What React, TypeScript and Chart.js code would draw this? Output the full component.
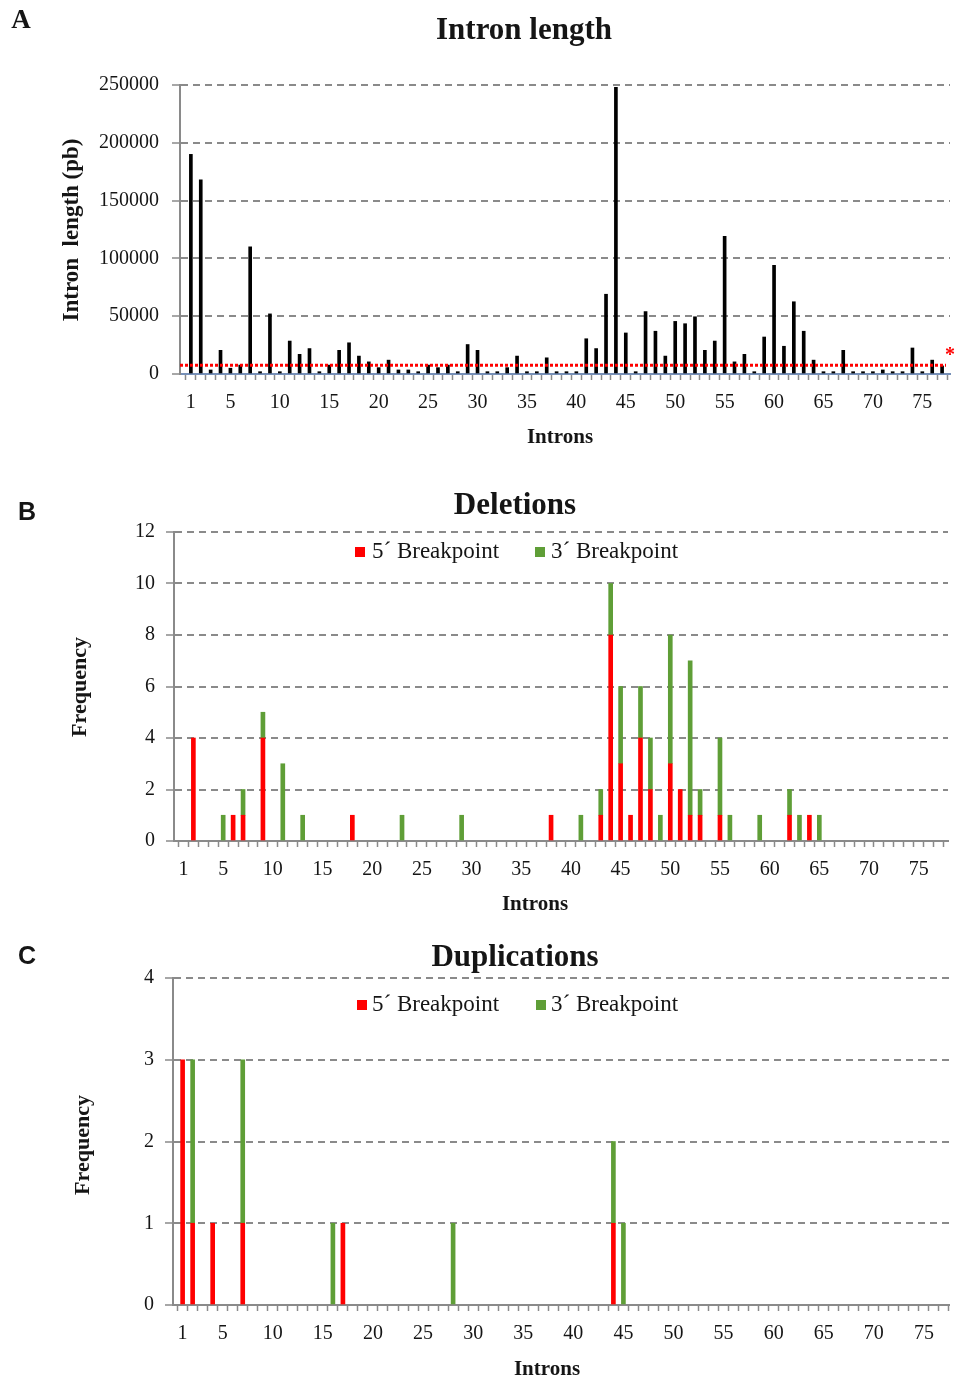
import React, { useEffect, useRef } from "react";
import { Chart, registerables } from "chart.js";

Chart.register(...registerables);

// ---------- DATA ----------
const INTRONS: number[] = Array.from({ length: 77 }, (_, i) => i + 1);
const X_TICK_LABELS = [1, 5, 10, 15, 20, 25, 30, 35, 40, 45, 50, 55, 60, 65, 70, 75];

// Panel A: intron length (pb), introns 1..77
const INTRON_LENGTH = [
  190000, 168000, 3500, 20500, 5000, 7700, 110000, 2000, 52000, 2000,
  28500, 17000, 22000, 2000, 7700, 20500, 27000, 15500, 10500, 5500,
  12000, 3500, 3500, 2000, 7700, 5500, 7700, 2000, 25500, 20500,
  2000, 2000, 5500, 15500, 2000, 2000, 14000, 2000, 2000, 2000,
  30500, 22000, 69000, 248000, 35500, 2000, 54000, 37000, 15500, 45500,
  43500, 49500, 20500, 28500, 119000, 10500, 17000, 2000, 32000, 94000,
  24000, 62500, 37000, 12000, 2000, 2000, 20500, 2000, 2000, 2000,
  3500, 2000, 2000, 22500, 2000, 12000, 7000,
];
const LENGTH_THRESHOLD = 7500;
const LENGTH_Y_TICKS = [0, 50000, 100000, 150000, 200000, 250000];

// Panel B: deletions
const DEL_5_INTRON = [2, 6, 7, 9, 18, 38, 43, 44, 45, 46, 47, 48, 50, 51, 52, 53, 55, 62, 64];
const DEL_5_COUNT = [4, 1, 1, 4, 1, 1, 1, 8, 3, 1, 4, 2, 3, 2, 1, 1, 1, 1, 1];
const DEL_3_INTRON = [5, 7, 9, 11, 13, 23, 29, 41, 43, 44, 45, 47, 48, 49, 50, 52, 53, 55, 56, 59, 62, 63, 65];
const DEL_3_COUNT = [1, 1, 1, 3, 1, 1, 1, 1, 1, 2, 3, 2, 2, 1, 5, 6, 1, 3, 1, 1, 1, 1, 1];
const DEL_Y_TICKS = [0, 2, 4, 6, 8, 10, 12];

// Panel C: duplications
const DUP_5_INTRON = [1, 2, 4, 7, 17, 44];
const DUP_5_COUNT = [3, 1, 1, 1, 1, 1];
const DUP_3_INTRON = [2, 7, 16, 28, 44, 45];
const DUP_3_COUNT = [2, 2, 1, 1, 1, 1];
const DUP_Y_TICKS = [0, 1, 2, 3, 4];

const LEGEND_5 = "5´ Breakpoint";
const LEGEND_3 = "3´ Breakpoint";

// ---------- STYLE ----------
const SERIF = "'Liberation Serif', 'Times New Roman', serif";
const SANS = "'Liberation Sans', Arial, sans-serif";
const GRID = "#8a8a8a";
const TEXT = "#151515";
const RED = "#ff0000";
const GREEN = "#5f9e37";

type TextItem = {
  text: string;
  x: number;
  y: number;
  font: string;
  color?: string;
  align?: CanvasTextAlign;
  rotate?: boolean;
};
type LegendItem = { text: string; color: string; boxX: number; textX: number; y: number };

function decoPlugin(texts: TextItem[], legend: LegendItem[], threshold?: number) {
  return {
    id: "deco",
    afterDatasetsDraw(chart: any) {
      if (threshold === undefined) return;
      const ctx = chart.ctx;
      const y = chart.scales.y.getPixelForValue(threshold);
      const { left, right } = chart.chartArea;
      ctx.save();
      ctx.strokeStyle = RED;
      ctx.lineWidth = 3;
      ctx.setLineDash([3, 2]);
      ctx.beginPath();
      ctx.moveTo(left, y);
      ctx.lineTo(right - 4, y);
      ctx.stroke();
      ctx.setLineDash([]);
      ctx.fillStyle = RED;
      ctx.font = `bold 20px ${SERIF}`;
      ctx.textAlign = "center";
      ctx.textBaseline = "middle";
      ctx.fillText("*", right + 0, y - 10);
      ctx.restore();
    },
    afterDraw(chart: any) {
      const ctx = chart.ctx;
      ctx.save();
      for (const t of texts) {
        ctx.save();
        ctx.font = t.font;
        ctx.fillStyle = t.color || TEXT;
        ctx.textAlign = t.align || "center";
        ctx.textBaseline = "middle";
        ctx.translate(t.x, t.y);
        if (t.rotate) ctx.rotate(-Math.PI / 2);
        ctx.fillText(t.text, 0, 0);
        ctx.restore();
      }
      for (const l of legend) {
        ctx.fillStyle = l.color;
        ctx.fillRect(l.boxX, l.y - 5, 10, 10);
        ctx.font = `23px ${SERIF}`;
        ctx.fillStyle = TEXT;
        ctx.textAlign = "left";
        ctx.textBaseline = "middle";
        ctx.fillText(l.text, l.textX, l.y);
      }
      ctx.restore();
    },
  };
}

function xScale(min: number, max: number, height: number, borderColor: string) {
  return {
    type: "linear",
    min,
    max,
    offset: false,
    stacked: true,
    afterBuildTicks: (scale: any) => {
      scale.ticks = INTRONS.map((v) => ({ value: v }));
    },
    afterFit: (scale: any) => {
      scale.height = height;
    },
    ticks: {
      autoSkip: false,
      maxRotation: 0,
      minRotation: 0,
      padding: 11,
      color: TEXT,
      font: { family: SERIF, size: 20 },
      callback: (v: number) => (X_TICK_LABELS.includes(v) ? String(v) : ""),
    },
    grid: {
      drawOnChartArea: false,
      drawTicks: true,
      tickLength: 6,
      tickColor: GRID,
      tickWidth: 1.5,
    },
    border: { display: true, color: borderColor, width: 2 },
  };
}

function yScale(ticks: number[], width: number, padding: number) {
  return {
    type: "linear",
    min: ticks[0],
    max: ticks[ticks.length - 1],
    stacked: true,
    afterBuildTicks: (scale: any) => {
      scale.ticks = ticks.map((v) => ({ value: v }));
    },
    afterFit: (scale: any) => {
      scale.width = width;
    },
    ticks: {
      padding,
      color: TEXT,
      font: { family: SERIF, size: 20 },
      callback: (v: number) => String(v),
    },
    grid: {
      color: GRID,
      lineWidth: 2,
      drawTicks: true,
      tickLength: 8,
      tickColor: GRID,
      tickWidth: 1.5,
      tickBorderDash: [],
    },
    border: { display: true, color: GRID, width: 2, dash: [7, 5] },
  };
}

function pairs(xs: number[], ys: number[]) {
  return xs.map((x, i) => ({ x, y: ys[i] }));
}

function buildA(): any {
  return {
    type: "bar",
    data: {
      datasets: [
        {
          label: "Intron length",
          data: INTRONS.map((x, i) => ({ x, y: INTRON_LENGTH[i] })),
          backgroundColor: "#000000",
          barThickness: 3,
        },
      ],
    },
    options: {
      responsive: false,
      animation: false,
      layout: { padding: { top: 85, left: 0, right: 5, bottom: 0 } },
      plugins: { legend: { display: false }, tooltip: { enabled: false }, title: { display: false } },
      scales: {
        x: xScale(-0.1, 77.8, 88, "#7790b8"),
        y: yScale(LENGTH_Y_TICKS, 180, 13),
      },
    },
    plugins: [
      decoPlugin(
        [
          { text: "A", x: 21, y: 21, font: `bold 27px ${SERIF}` },
          { text: "Intron length", x: 524, y: 31, font: `bold 31px ${SERIF}` },
          { text: "Intron  length (pb)", x: 72, y: 230, font: `bold 23px ${SERIF}`, rotate: true },
          { text: "Introns", x: 560, y: 438, font: `bold 21px ${SERIF}` },
        ],
        [],
        LENGTH_THRESHOLD
      ),
    ],
  };
}

function buildStacked(
  five: { x: number; y: number }[],
  three: { x: number; y: number }[],
  yTicks: number[],
  opts: {
    top: number;
    bottom: number;
    height: number;
    left: number;
    right: number;
    min: number;
    max: number;
    texts: TextItem[];
    legend: LegendItem[];
  }
): any {
  return {
    type: "bar",
    data: {
      datasets: [
        { label: LEGEND_5, data: five, backgroundColor: RED, barThickness: 4 },
        { label: LEGEND_3, data: three, backgroundColor: GREEN, barThickness: 4 },
      ],
    },
    options: {
      responsive: false,
      animation: false,
      layout: { padding: { top: opts.top, left: 0, right: 955 - opts.right, bottom: 0 } },
      plugins: { legend: { display: false }, tooltip: { enabled: false }, title: { display: false } },
      scales: {
        x: xScale(opts.min, opts.max, opts.height - opts.bottom, GRID),
        y: yScale(yTicks, opts.left, 11),
      },
    },
    plugins: [decoPlugin(opts.texts, opts.legend)],
  };
}

function ChartCanvas({ top, height, build }: { top: number; height: number; build: () => any }) {
  const ref = useRef<HTMLCanvasElement>(null);
  useEffect(() => {
    if (!ref.current) return;
    const chart = new Chart(ref.current, build());
    return () => chart.destroy();
  }, []);
  return (
    <canvas
      ref={ref}
      width={955}
      height={height}
      style={{ position: "absolute", left: 0, top, width: 955, height }}
    />
  );
}

export default function App() {
  const buildB = () =>
    buildStacked(pairs(DEL_5_INTRON, DEL_5_COUNT), pairs(DEL_3_INTRON, DEL_3_COUNT), DEL_Y_TICKS, {
      top: 67,
      bottom: 376,
      height: 460,
      left: 174,
      right: 948,
      min: 0.05,
      max: 77.95,
      texts: [
        { text: "B", x: 27, y: 48, font: `bold 25px ${SANS}` },
        { text: "Deletions", x: 515, y: 41, font: `bold 31px ${SERIF}` },
        { text: "Frequency", x: 80, y: 222, font: `bold 22px ${SERIF}`, rotate: true },
        { text: "Introns", x: 535, y: 440, font: `bold 21px ${SERIF}` },
      ],
      legend: [
        { text: LEGEND_5, color: RED, boxX: 355, textX: 372, y: 87 },
        { text: LEGEND_3, color: GREEN, boxX: 535, textX: 551, y: 87 },
      ],
    });
  const buildC = () =>
    buildStacked(pairs(DUP_5_INTRON, DUP_5_COUNT), pairs(DUP_3_INTRON, DUP_3_COUNT), DUP_Y_TICKS, {
      top: 53,
      bottom: 380,
      height: 456,
      left: 173,
      right: 953,
      min: 0.04,
      max: 77.6,
      texts: [
        { text: "C", x: 27, y: 32, font: `bold 25px ${SANS}` },
        { text: "Duplications", x: 515, y: 33, font: `bold 31px ${SERIF}` },
        { text: "Frequency", x: 83, y: 220, font: `bold 22px ${SERIF}`, rotate: true },
        { text: "Introns", x: 547, y: 445, font: `bold 21px ${SERIF}` },
      ],
      legend: [
        { text: LEGEND_5, color: RED, boxX: 357, textX: 372, y: 80 },
        { text: LEGEND_3, color: GREEN, boxX: 536, textX: 551, y: 80 },
      ],
    });
  return (
    <div
      style={{
        position: "absolute",
        left: 0,
        top: 0,
        width: 955,
        height: 1381,
        background: "#ffffff",
        overflow: "hidden",
      }}
    >
      <ChartCanvas top={0} height={462} build={buildA} />
      <ChartCanvas top={465} height={460} build={buildB} />
      <ChartCanvas top={925} height={456} build={buildC} />
    </div>
  );
}
